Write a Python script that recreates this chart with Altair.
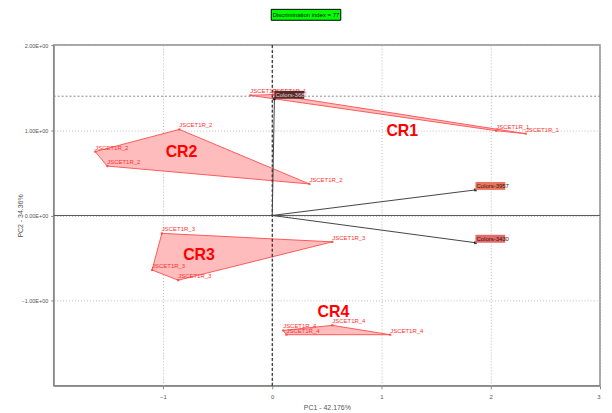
import altair as alt
import pandas as pd

# ---- data ----
clusters = ["CR1", "CR2", "CR3", "CR4"]
cr1_x = [-0.20, 0.01, 2.32, 2.05]
cr1_y = [1.41, 1.42, 0.96, 0.995]
cr2_x = [-0.85, 0.34, -1.51, -1.62]
cr2_y = [1.01, 0.37, 0.58, 0.75]
cr3_x = [-1.01, 0.55, -0.86, -1.10]
cr3_y = [-0.21, -0.31, -0.76, -0.64]
cr4_x = [0.10, 0.55, 1.08, 0.13]
cr4_y = [-1.35, -1.29, -1.40, -1.40]
point_names = ["JSCET1R_1", "JSCET1R_2", "JSCET1R_3", "JSCET1R_4"]

cluster_label_x = [1.19, -0.83, -0.67, 0.56]
cluster_label_y = [0.99, 0.74, -0.47, -1.13]

vector_names = ["Colors-3957", "Colors-3430", "Colors-3681"]
vector_x = [1.86, 1.86, 0.02]
vector_y = [0.30, -0.32, 1.37]
vector_box_colors = ["#e8765c", "#e06b6b", "#5a2a2a"]
vector_text_colors = ["#3a1010", "#3a1010", "#e0d0d0"]

ref_h_value = 1.40
title_text = "Discrimination index = 77"
x_ticks = [-1, 0, 1, 2, 3]
y_ticks = [-1, 0, 1, 2]

# ---- tables ----
poly_rows = []
for ci, (xs, ys) in enumerate([(cr1_x, cr1_y), (cr2_x, cr2_y), (cr3_x, cr3_y), (cr4_x, cr4_y)]):
    n = len(xs)
    for i in range(n + 1):
        poly_rows.append({"cluster": clusters[ci], "x": xs[i % n], "y": ys[i % n],
                          "order": i, "name": point_names[ci], "closing": i == n})
poly = pd.DataFrame(poly_rows)
pts = poly[~poly["closing"]]

clab = pd.DataFrame({"label": clusters, "x": cluster_label_x, "y": cluster_label_y})
vec = pd.DataFrame({"name": vector_names, "x": vector_x, "y": vector_y,
                    "box": vector_box_colors, "tc": vector_text_colors,
                    "x0": [0] * 3, "y0": [0] * 3})

xs = alt.Scale(domain=[-2, 3], nice=False, zero=False)
ys = alt.Scale(domain=[-2, 2], nice=False, zero=False)

W, H = 550, 343

base = alt.Chart(pd.DataFrame({"a": [0]}))

axes = base.mark_point(opacity=0).encode(
    x=alt.X("a:Q", scale=xs, title="PC1 - 42.176%",
            axis=alt.Axis(values=x_ticks, format="d", grid=True, gridDash=[1, 2],
                          gridColor="#bbbbbb", domainColor="#888888", tickColor="#888888",
                          tickSize=3, labelFontSize=6, labelColor="#555555",
                          labelPadding=5, titleFontSize=7, titleColor="#555555",
                          titleFontWeight="normal", titleY=22, titleBaseline="middle",
                          labelFont="Liberation Sans", titleFont="Liberation Sans")),
    y=alt.Y("a:Q", scale=ys, title="PC2 - 34.36%",
            axis=alt.Axis(values=y_ticks, labelExpr="format(datum.value, '.2f') + 'E+00'",
                          grid=True, gridDash=[1, 2], gridColor="#bbbbbb",
                          domainColor="#888888", tickColor="#888888", tickSize=3,
                          labelFontSize=5.5, labelColor="#555555", labelPadding=3,
                          titleFontSize=7, titleColor="#555555", titleFontWeight="normal",
                          titleX=-33, titleBaseline="middle",
                          labelFont="Liberation Sans", titleFont="Liberation Sans")),
)

h0 = base.mark_rule(color="#555555", strokeWidth=1).encode(y=alt.datum(0, scale=ys))
h14 = base.mark_rule(color="#888888", strokeWidth=1, strokeDash=[2, 2]).encode(
    y=alt.datum(ref_h_value, scale=ys))
v0 = base.mark_rule(color="#000000", strokeWidth=1, strokeDash=[3, 2]).encode(
    x=alt.datum(0, scale=xs))

polys = alt.Chart(poly).mark_line(fill="#ffbcbc", stroke="#ff5a5a", strokeWidth=1,
                                  interpolate="linear").encode(
    x=alt.X("x:Q", scale=xs), y=alt.Y("y:Q", scale=ys),
    detail="cluster:N", order="order:Q")

pmarks = alt.Chart(pts).mark_point(shape="square", size=5, color="#ff3030",
                                   filled=True).encode(
    x=alt.X("x:Q", scale=xs), y=alt.Y("y:Q", scale=ys))

plabels = alt.Chart(pts).mark_text(align="left", baseline="bottom", dx=0, dy=-1,
                                   fontSize=6, color="#ff3030",
                                   font="Liberation Sans").encode(
    x=alt.X("x:Q", scale=xs), y=alt.Y("y:Q", scale=ys), text="name:N")

clabels = alt.Chart(clab).mark_text(fontSize=16, fontWeight="bold", color="#ff0000",
                                    font="Liberation Sans").encode(
    x=alt.X("x:Q", scale=xs), y=alt.Y("y:Q", scale=ys), text="label:N")

vlines = alt.Chart(vec).mark_rule(color="#444444", strokeWidth=1).encode(
    x=alt.X("x0:Q", scale=xs), y=alt.Y("y0:Q", scale=ys), x2="x:Q", y2="y:Q")

vpts = alt.Chart(vec).mark_point(shape="square", size=8, color="#000000",
                                 filled=True).encode(
    x=alt.X("x:Q", scale=xs), y=alt.Y("y:Q", scale=ys))

vboxes = alt.Chart(vec).mark_rect(width=30, height=8, xOffset=15, yOffset=-4).encode(
    x=alt.X("x:Q", scale=xs), y=alt.Y("y:Q", scale=ys),
    color=alt.Color("box:N", scale=None))

vtext = alt.Chart(vec).mark_text(align="left", baseline="middle", dx=1, dy=-4,
                                 fontSize=6, font="Liberation Sans").encode(
    x=alt.X("x:Q", scale=xs), y=alt.Y("y:Q", scale=ys), text="name:N",
    color=alt.Color("tc:N", scale=None))

tbox = base.mark_rect(fill="#00ff00", stroke="#000000", strokeWidth=1).encode(
    x=alt.value(219), x2=alt.value(289), y=alt.value(-36), y2=alt.value(-25))
ttext = base.mark_text(fontSize=6, color="#000000", font="Liberation Sans",
                       baseline="middle").encode(
    x=alt.value(254), y=alt.value(-30.5), text=alt.datum(title_text))

chart = alt.layer(
    axes, h14, polys, h0, v0, vlines, pmarks, plabels, clabels, vpts, vboxes, vtext,
    tbox, ttext
).properties(
    width=W, height=H,
    autosize=alt.AutoSizeParams(type="none"),
    padding={"left": 46, "top": 36, "right": 4, "bottom": 26},
).configure_view(stroke="#888888", strokeWidth=1.5)

chart.save("out.html", embed_options={"renderer": "svg", "actions": False})
